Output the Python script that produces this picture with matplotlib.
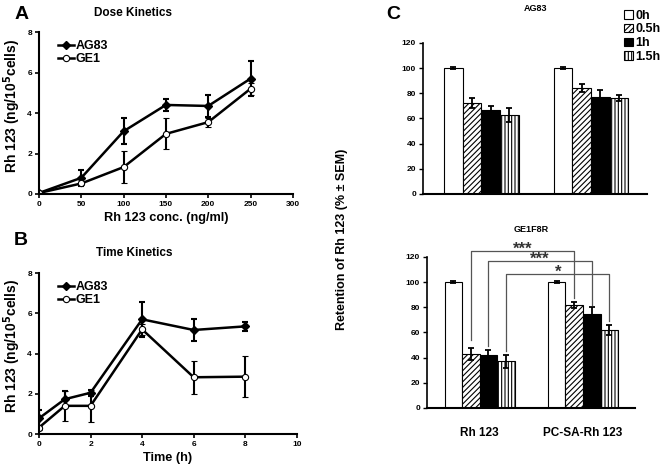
import matplotlib
matplotlib.use("Agg")
from matplotlib import pyplot as plt
from matplotlib.patches import Patch
from matplotlib.lines import Line2D
import numpy as np

plt.rcParams['font.family'] = ['Liberation Sans', 'DejaVu Sans']
plt.rcParams['font.weight'] = 'bold'
plt.rcParams['axes.labelweight'] = 'bold'
plt.rcParams['hatch.linewidth'] = 0.8

# dose kinetics
dose = [0, 50, 100, 150, 200, 250]
dose_ag83 = [0.05, 0.8, 3.1, 4.4, 4.35, 5.7]
dose_ag83_err = [0.05, 0.4, 0.65, 0.28, 0.55, 0.87]
dose_ge1 = [0.05, 0.52, 1.33, 2.97, 3.55, 5.2]
dose_ge1_err = [0.05, 0.08, 0.8, 0.77, 0.22, 0.3]

# time kinetics
hours = [0, 1, 2, 4, 6, 8]
time_ag83 = [0.78, 1.73, 2.05, 5.7, 5.17, 5.35]
time_ag83_err = [0.4, 0.4, 0.15, 0.88, 0.53, 0.22]
time_ge1 = [0.32, 1.4, 1.4, 5.2, 2.82, 2.85]
time_ge1_err = [0.1, 0.75, 0.78, 0.28, 0.83, 1.03]

# retention
groups = ['Rh 123', 'PC-SA-Rh 123']
periods = ['0h', '0.5h', '1h', '1.5h']
ag83_ret = [[100, 72, 67, 63], [100, 84, 77, 76]]
ag83_ret_err = [[1, 4, 3, 5.5], [0.6, 3, 5.5, 2.5]]
ge1_ret = [[100, 43, 42, 37], [100, 82, 75, 62]]
ge1_ret_err = [[1, 4.5, 4, 5.5], [0.6, 2.5, 5, 4]]
sig_stars = ['***', '***', '*']

fig = plt.figure(figsize=(6.61, 4.72), dpi=100)

ag_style = dict(color='black', lw=1.8, marker='D', ms=4, mfc='black', mec='black')
ge_style = dict(color='black', lw=1.8, marker='o', ms=4.5, mfc='white',
                mec='black', mew=0.8)


def line_panel(ax, x, y1, e1, y2, e2, xlim, xticks, xlabel, title, letter,
               title_y, letter_y, ylab_y):
    ax.errorbar(x, y1, yerr=e1, capsize=2.5, elinewidth=1.5, capthick=1.5,
                **ag_style)
    ax.errorbar(x, y2, yerr=e2, capsize=2.5, elinewidth=1.5, capthick=1.5,
                **ge_style)
    ax.set_xlim(xlim)
    ax.set_ylim(0, 8)
    ax.set_xticks(xticks)
    ax.set_yticks([0, 2, 4, 6, 8])
    ax.spines['top'].set_visible(False)
    ax.spines['right'].set_visible(False)
    ax.spines['left'].set_linewidth(1.5)
    ax.spines['bottom'].set_linewidth(1.5)
    ax.tick_params(labelsize=6, length=3, width=1.2, pad=2)
    ax.set_xlabel(xlabel, fontsize=9.2, labelpad=3)
    ax.set_ylabel('Rh 123 (ng/10$^{\\mathbf{5}}$cells)', fontsize=10)
    ax.yaxis.set_label_coords(-0.062, ylab_y)
    handles = [Line2D([], [], **ag_style), Line2D([], [], **ge_style)]
    ax.legend(handles, ['AG83', 'GE1'], loc='upper left',
              bbox_to_anchor=(0.03, 1.02), frameon=False, fontsize=9,
              handlelength=1.3, handletextpad=0.1, labelspacing=0.1)
    ax.text(0.37, title_y, title, transform=ax.transAxes, ha='center',
            va='center', fontsize=8.5)
    ax.text(-0.07, letter_y, letter, transform=ax.transAxes, ha='center',
            va='center', fontsize=14)


ax_a = fig.add_axes([0.059, 0.589, 0.384, 0.343])
line_panel(ax_a, dose, dose_ag83, dose_ag83_err, dose_ge1, dose_ge1_err,
           (0, 300), range(0, 301, 50), 'Rh 123 conc. (ng/ml)',
           'Dose Kinetics', 'A', 1.12, 1.11, 0.545)

ax_b = fig.add_axes([0.059, 0.0805, 0.39, 0.341])
line_panel(ax_b, hours, time_ag83, time_ag83_err, time_ge1, time_ge1_err,
           (0, 10), range(0, 11, 2), 'Time (h)', 'Time Kinetics', 'B',
           1.125, 1.2, 0.55)

styles = [dict(color='white', hatch=None),
          dict(color='white', hatch='//////'),
          dict(color='black', hatch=None),
          dict(color='white', hatch='|||||')]
width = 0.17


def bar_panel(ax, vals, errs, title, title_y, xlim, show_labels):
    pos = np.arange(len(groups))
    for k in range(len(periods)):
        v = [vals[g][k] for g in range(len(groups))]
        e = [errs[g][k] for g in range(len(groups))]
        xk = pos + (k - 1.5) * width
        ax.bar(xk, v, width, color=styles[k]['color'], hatch=styles[k]['hatch'],
               edgecolor='black', linewidth=0.8, label=periods[k])
        ax.errorbar(xk, v, yerr=e, fmt='none', ecolor='black', elinewidth=1.3,
                    capsize=2.5, capthick=1.3)
    ax.set_xlim(xlim)
    ax.set_ylim(0, 120)
    ax.set_yticks(range(0, 121, 20))
    ax.spines['top'].set_visible(False)
    ax.spines['right'].set_visible(False)
    ax.spines['left'].set_linewidth(1.2)
    ax.spines['bottom'].set_linewidth(1.5)
    ax.tick_params(axis='y', labelsize=6, length=3, width=1.0, pad=2)
    ax.tick_params(axis='x', length=0, labelsize=8.5, pad=14)
    ax.set_xticks(pos)
    if show_labels:
        ax.set_xticklabels(groups)
    else:
        ax.set_xticklabels([])
    ax.text(0.5, title_y, title, transform=ax.transAxes, ha='center',
            va='center', fontsize=6.5)


ax_c1 = fig.add_axes([0.640, 0.589, 0.339, 0.32])
bar_panel(ax_c1, ag83_ret, ag83_ret_err, 'AG83', 1.23, (-0.53, 1.51), False)
ax_c1.text(-0.134, 1.19, 'C', transform=ax_c1.transAxes, ha='center',
           va='center', fontsize=14)
handles = [Patch(facecolor=styles[k]['color'], hatch=styles[k]['hatch'],
                 edgecolor='black', linewidth=0.8) for k in range(4)]
fig.legend(handles, periods, loc='upper left', bbox_to_anchor=(0.935, 0.993),
           frameon=False, fontsize=9, handlelength=0.7, handleheight=0.7,
           handletextpad=0.2, labelspacing=0.15, borderpad=0)

ax_c2 = fig.add_axes([0.646, 0.1356, 0.315, 0.32])
bar_panel(ax_c2, ge1_ret, ge1_ret_err, 'GE1F8R', 1.18, (-0.51, 1.505), True)
ax_c2.set_ylabel('Retention of Rh 123 (% ± SEM)', fontsize=9)
ax_c2.yaxis.set_label_coords(-0.38, 1.12)

# significance brackets between matching time points
br_top = [125, 117, 106.5]
br_left = [54, 49, 45]
br_right = [87, 82, 69]
for i, k in enumerate([1, 2, 3]):
    x1 = 0 + (k - 1.5) * width
    x2 = 1 + (k - 1.5) * width
    ax_c2.plot([x1, x1, x2, x2], [br_left[i], br_top[i], br_top[i], br_right[i]],
               color='#555555', lw=0.9, clip_on=False)
    ax_c2.text((x1 + x2) / 2, br_top[i] - 5, sig_stars[i], ha='center',
               va='bottom', fontsize=12, color='#333333')

fig.savefig('out.png', dpi=100)
